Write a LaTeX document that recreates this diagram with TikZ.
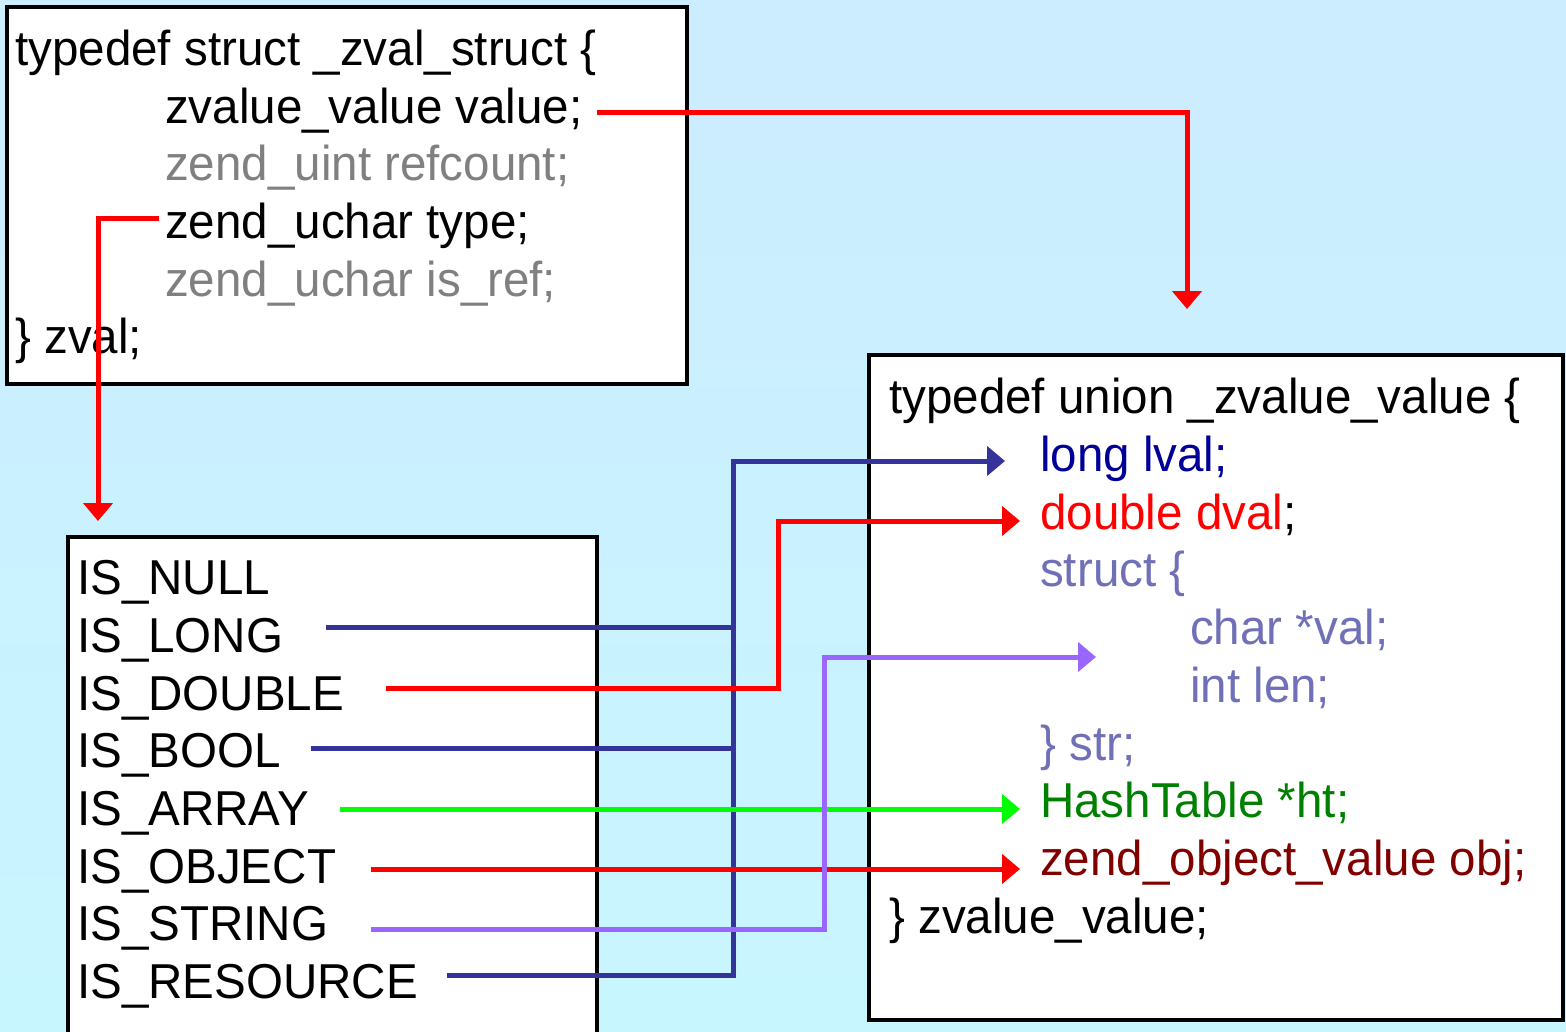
\documentclass[tikz,border=0pt]{standalone}
\usepackage{fontspec}
\setmainfont{Liberation Sans}[FakeStretch=0.97]
\usetikzlibrary{arrows.meta}
\definecolor{bgtop}{RGB}{204,236,255}
\definecolor{bgbot}{RGB}{200,246,255}
\definecolor{lineblue}{RGB}{51,51,153}
\definecolor{navytext}{RGB}{0,0,153}
\definecolor{structtext}{RGB}{112,112,184}
\definecolor{greentext}{RGB}{0,128,0}
\definecolor{darkred}{RGB}{128,0,0}
\definecolor{greytext}{RGB}{128,128,128}
\definecolor{purpleline}{RGB}{153,102,255}
\definecolor{greenline}{RGB}{0,255,0}
\begin{document}
\begin{tikzpicture}[x=1pt,y=-1pt,
  codetext/.style={anchor=base west,inner sep=0pt,font=\fontsize{49pt}{58pt}\selectfont},
  codebox/.style={draw=black,fill=white,line width=4pt,inner sep=0pt},
  conn/.style={line width=5pt,line join=miter},
  tip/.style={-{Triangle[length=18pt,width=29pt]}}]
\useasboundingbox (0,0) rectangle (1566,1031);
\shade[top color=bgtop,bottom color=bgbot] (0,0) rectangle (1566,1031);

% boxes
\node[codebox,minimum width=680pt,minimum height=377pt] (zvalbox) at (347,195.5) {};
\node[codebox,minimum width=694pt,minimum height=665pt] (unionbox) at (1216,687.5) {};
\node[codebox,minimum width=529pt,minimum height=520pt] (typebox) at (332.5,797) {};

% zval struct
\node[codetext] (z1) at (15,65) {typedef struct \_zval\_struct \{};
\node[codetext] (z2) at (165,123) {zvalue\_value value;};
\node[codetext,text=greytext] (z3) at (165,180) {zend\_uint refcount;};
\node[codetext] (z4) at (165,238) {zend\_uchar type;};
\node[codetext,text=greytext] (z5) at (165,296) {zend\_uchar is\_ref;};
\node[codetext] (z6) at (15,353) {\} zval;};

% union
\node[codetext] (u1) at (889,413) {typedef union \_zvalue\_value \{};
\node[codetext,text=navytext] (u2) at (1040,471) {long lval;};
\node[codetext] (u3) at (1040,529) {\textcolor{red}{double dval};};
\node[codetext,text=structtext] (u4) at (1040,586) {struct \{};
\node[codetext,text=structtext] (u5) at (1190,644) {char *val;};
\node[codetext,text=structtext] (u6) at (1190,702) {int len;};
\node[codetext,text=structtext] (u7) at (1040,760) {\} str;};
\node[codetext,text=greentext] (u8) at (1040,817) {HashTable *ht;};
\node[codetext,text=darkred] (u9) at (1040,875) {zend\_object\_value obj;};
\node[codetext] (u10) at (889,933) {\} zvalue\_value;};

% types
\node[codetext] (t1) at (77,594) {IS\_NULL};
\node[codetext] (t2) at (77,652) {IS\_LONG};
\node[codetext] (t3) at (77,710) {IS\_DOUBLE};
\node[codetext] (t4) at (77,767) {IS\_BOOL};
\node[codetext] (t5) at (77,825) {IS\_ARRAY};
\node[codetext] (t6) at (77,883) {IS\_OBJECT};
\node[codetext] (t7) at (77,940) {IS\_STRING};
\node[codetext] (t8) at (77,998) {IS\_RESOURCE};

% connector end points
\coordinate (valueS) at (597,112);
\coordinate (valueT) at (1187,309);
\coordinate (typeS) at (159,218);
\coordinate (typeT) at (98,521);
\coordinate (longS) at (326,627);
\coordinate (boolS) at (311,748);
\coordinate (resS) at (447,975);
\coordinate (blueJ) at (733,975);
\coordinate (longT) at (1005,461);
\coordinate (doubleS) at (386,688);
\coordinate (doubleT) at (1020,521);
\coordinate (arrayS) at (340,809);
\coordinate (arrayT) at (1020,809);
\coordinate (objectS) at (371,869);
\coordinate (objectT) at (1020,869);
\coordinate (stringS) at (371,929);
\coordinate (stringT) at (1096,657);

% connectors
\draw[conn,red,tip] (valueS) -| (valueT);
\draw[conn,red,tip] (typeS) -| (typeT);
\draw[conn,lineblue] (longS) -- (longS -| blueJ);
\draw[conn,lineblue] (boolS) -- (boolS -| blueJ);
\draw[conn,lineblue,tip] (resS) -- (blueJ) |- (longT);
\draw[conn,red,tip] (doubleS) -- (doubleS -| 778,0) |- (doubleT);
\draw[conn,greenline,tip] (arrayS) -- (arrayT);
\draw[conn,red,tip] (objectS) -- (objectT);
\draw[conn,purpleline,tip] (stringS) -- (stringS -| 824,0) |- (stringT);
\end{tikzpicture}
\end{document}
